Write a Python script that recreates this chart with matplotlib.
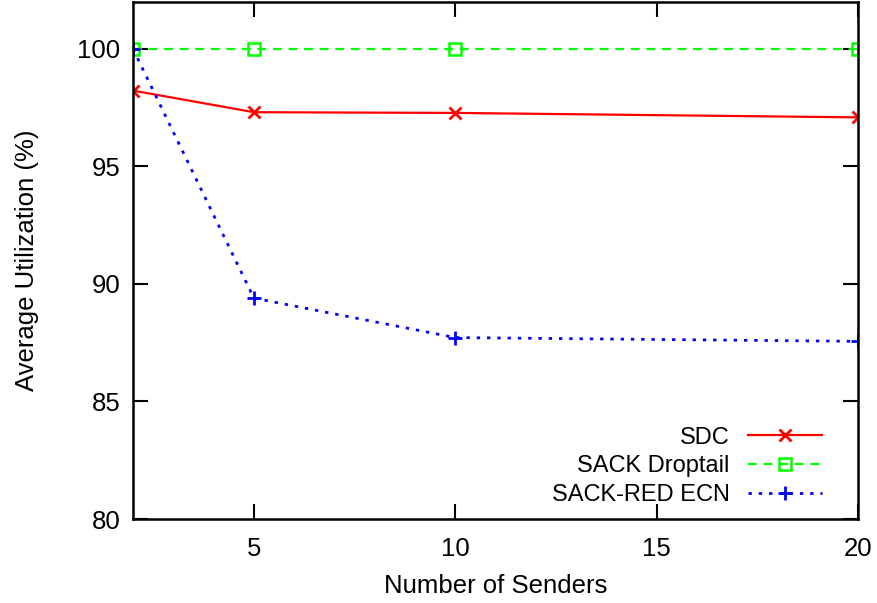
import matplotlib.pyplot as plt

plt.rcParams["font.family"] = ["Liberation Sans", "DejaVu Sans"]

# Data
senders = [2, 5, 10, 20]
sdc = [98.23, 97.31, 97.28, 97.09]
sack_droptail = [100, 100, 100, 100]
sack_red_ecn = [100, 89.40, 87.72, 87.56]

fig = plt.figure(figsize=(8.78, 6.03), dpi=100)
ax = fig.add_axes([0.1515, 0.1393, 0.8258, 0.8574])

ax.plot(senders, sdc, color="#ff0000", linestyle="-", linewidth=1.6,
        marker="x", markersize=9, markeredgewidth=2.0, label="SDC")
ax.plot(senders, sack_droptail, color="#00ff00", linestyle=(0, (4, 3)), linewidth=1.6,
        marker="s", markersize=9, markerfacecolor="none", markeredgewidth=1.8,
        label="SACK Droptail")
ax.plot(senders, sack_red_ecn, color="#0000ff", linestyle=(0, (1.2, 2.5)), linewidth=2.0,
        marker="+", markersize=10, markeredgewidth=2.0, label="SACK-RED ECN")

ax.set_xlim(2, 20)
ax.set_ylim(80, 102)
ax.set_xticks([5, 10, 15, 20])
ax.set_yticks([80, 85, 90, 95, 100])
ax.tick_params(direction="in", length=11, width=1.5, top=True, right=True,
               labelsize=18.5, pad=9)
ax.tick_params(axis="x", pad=13)
for s in ax.spines.values():
    s.set_linewidth(1.8)

ax.set_xlabel("Number of Senders", fontsize=18.5, labelpad=9)
ax.set_ylabel("Average Utilization (%)", fontsize=18.5, labelpad=28)

leg = ax.legend(loc="lower right", frameon=False, fontsize=17, markerfirst=False,
                handlelength=3.1, handletextpad=0.8, labelspacing=0.28,
                bbox_to_anchor=(0.979, -0.0155))
for t in leg.get_texts():
    t.set_ha("right")

fig.savefig("out.png", dpi=100)
